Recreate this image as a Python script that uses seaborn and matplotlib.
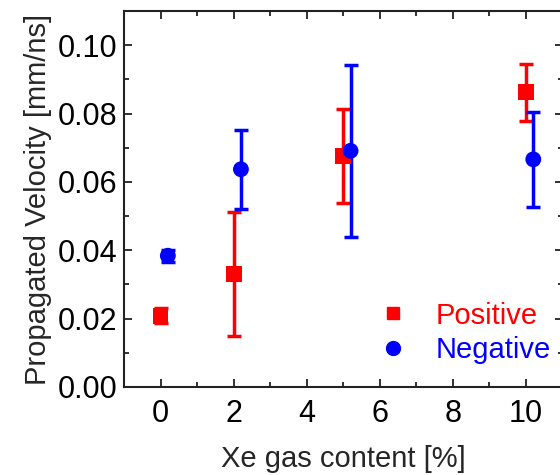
import matplotlib
matplotlib.use("Agg")
import matplotlib.pyplot as plt
import seaborn as sns
import pandas as pd
from matplotlib.lines import Line2D
from matplotlib.ticker import MultipleLocator

sns.set_theme(style="ticks")
plt.rcParams['font.family'] = ['Liberation Sans', 'DejaVu Sans']

pos_x = [0, 2, 5, 10]
pos_y = [0.0208, 0.0330, 0.0675, 0.0862]
pos_err = [0.0022, 0.0182, 0.0137, 0.0083]

neg_x = [0.2, 2.2, 5.2, 10.2]
neg_y = [0.0384, 0.0637, 0.0691, 0.0666]
neg_err = [0.0018, 0.0115, 0.0251, 0.0140]

df = pd.DataFrame({
    "x": pos_x + neg_x,
    "y": pos_y + neg_y,
    "err": pos_err + neg_err,
    "Polarity": ["Positive"] * 4 + ["Negative"] * 4,
})

fig = plt.figure(figsize=(5.6, 4.75), dpi=100)
ax = fig.add_axes([0.2214, 0.1853, 0.7831, 0.7915])

colors = {"Positive": "#ff0000", "Negative": "#0000ff"}
markers = {"Positive": "s", "Negative": "o"}

for name, sub in df.groupby("Polarity", sort=False):
    ax.errorbar(sub["x"], sub["y"], yerr=sub["err"], fmt="none",
                ecolor=colors[name], elinewidth=2.5, capsize=5, capthick=2.5, zorder=2)

sns.scatterplot(data=df, x="x", y="y", hue="Polarity", style="Polarity",
                palette=colors, markers=markers, s=130, linewidth=0,
                ax=ax, legend=False, zorder=3)

ax.set_xlim(-1, 11)
ax.set_ylim(0, 0.11)
ax.xaxis.set_major_locator(MultipleLocator(2))
ax.xaxis.set_minor_locator(MultipleLocator(1))
ax.yaxis.set_major_locator(MultipleLocator(0.02))
ax.yaxis.set_minor_locator(MultipleLocator(0.01))
ax.yaxis.set_major_formatter(matplotlib.ticker.FormatStrFormatter('%.2f'))
ax.tick_params(which="both", direction="in", top=True, right=True, width=1.3,
               colors="#222222", labelcolor="black")
ax.tick_params(which="major", length=6, labelsize=22)
ax.tick_params(axis="x", which="major", pad=9)
ax.tick_params(axis="y", which="major", pad=5)
ax.tick_params(which="minor", length=3.5)
for s in ax.spines.values():
    s.set_linewidth(1.5)
    s.set_color("#222222")

ax.set_xlabel("Xe gas content [%]", fontsize=21, labelpad=11)
ax.set_ylabel("Propagated Velocity [mm/ns]", fontsize=21, labelpad=4)

handles = [Line2D([], [], linestyle="none", marker="s", color="#ff0000", markersize=9),
           Line2D([], [], linestyle="none", marker="o", color="#0000ff", markersize=10)]
leg = ax.legend(handles, ["Positive", "Negative"], loc="lower right",
                bbox_to_anchor=(1.0, 0.03), frameon=False, fontsize=21,
                handletextpad=0.95, labelspacing=0.22, handlelength=1.0,
                borderaxespad=0.0)
for t, c in zip(leg.get_texts(), ["#ff0000", "#0000ff"]):
    t.set_color(c)

fig.savefig("out.png", dpi=100)
